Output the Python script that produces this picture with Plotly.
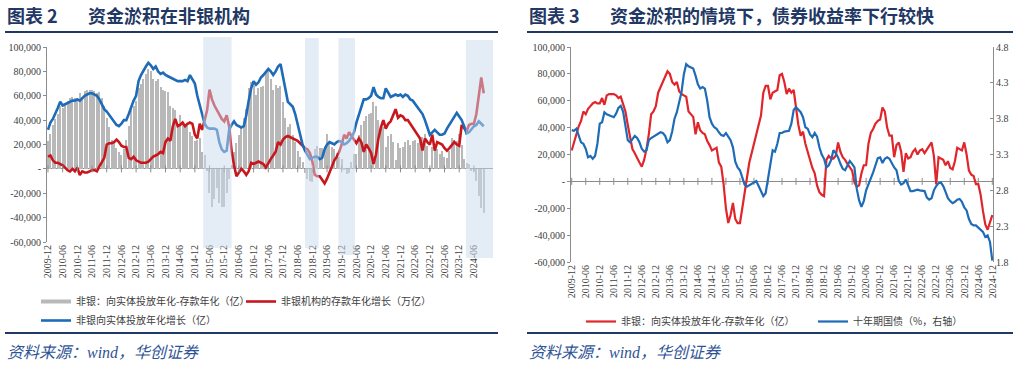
import plotly.graph_objects as go
import pandas as pd

# ---------------- data ----------------
months = [p.strftime("%Y-%m") for p in pd.period_range("2009-12", "2024-12", freq="M")]
tick_labels = months[::6]

# 非银：向实体投放年化-存款年化（亿）  (left bars, right red line)
gap = [23000,29000,36000,41000,45000,52000,50000,54000,56000,58000,
       59000,58000,58000,62000,57000,64000,65000,65000,65000,64000,
       62000,63000,58000,52000,42000,34000,24000,21000,17000,14000,
       11000,16000,24000,35000,50000,52000,56000,66000,70000,74000,
       78000,82000,80000,74000,72000,74000,67000,65000,64000,63000,
       52000,50000,48000,35000,44000,38000,36000,35000,30000,27000,
       23000,24000,25000,14000,11000,-2000,-20000,-31000,-25000,-16000,
       -28000,-31000,-31000,-20000,-8000,3000,14000,21000,28000,34000,
       42000,49000,66000,71000,71000,61000,66000,67000,68000,79000,
       80000,74000,65000,69000,66000,68000,55000,42000,34000,37000,
       28000,22000,15000,10000,6000,-3000,-8000,-10000,-11000,16000,
       19000,17000,17000,19000,29000,22000,18000,16000,13000,10000,
       8000,-1000,-4000,-3000,6000,12000,12000,28000,36000,39000,
       43000,45000,46000,55000,52000,40000,34000,34000,18000,27000,
       29000,22000,7000,21000,17000,18000,22000,24000,20000,23000,
       24000,21000,24000,26000,29000,19000,-2000,18000,17000,16000,
       12000,15000,10000,9000,15000,25000,24000,23000,29000,20000,
       8000,5000,4000,-2000,-2000,-10000,-22000,-32000,-36000,-30000,
       -25000]

# 非银向实体投放年化增长（亿）
nb_lending = [32000,38000,41000,45000,50000,55000,52000,53000,54000,55000,
              56000,56000,57000,56000,58000,60000,61000,62000,62000,61000,
              60000,57000,53000,49000,47000,44000,41000,38000,36000,35000,
              37000,40000,40000,45000,51000,56000,60000,72000,77000,81000,
              84000,87000,85000,82000,84000,80000,78000,79000,77000,76000,
              75000,74000,73000,72000,72000,72000,73000,72000,77000,74000,
              70000,60000,52000,44000,37000,34000,33000,33000,33000,32000,
              22000,16000,14000,15000,32000,36000,39000,36000,35000,34000,
              35000,44000,56000,66000,72000,69000,71000,75000,77000,80000,
              82000,80000,77000,80000,84000,86000,76000,64000,55000,53000,
              51000,45000,36000,28000,20000,15000,12000,8000,9000,10000,
              10000,8000,9000,16000,20000,22000,21000,20000,22000,23000,
              22000,20000,21000,23000,26000,30000,38000,45000,52000,57000,
              57000,58000,60000,67000,61000,59000,58000,58000,66000,62000,
              59000,60000,61000,60000,61000,59000,61000,60000,57000,56000,
              53000,50000,48000,45000,40000,34000,28000,30000,32000,30000,
              28000,28000,29000,33000,36000,39000,42000,46000,43000,40000,
              35000,29000,30000,33000,35000,36000,39000,37000,35000]

# 非银机构的存款年化增长（万亿）
nb_deposit = [10000,11000,7000,5000,5000,4000,3000,1000,-1000,-2000,
              0,-2000,1000,-5000,-2000,-3000,-3000,-2000,-1000,-1000,
              -2000,2000,6000,9000,20000,21000,21000,22000,24000,22000,
              19000,18000,18000,9000,8000,10000,7000,6000,5000,5000,
              5000,6000,8000,10000,11000,12000,14000,13000,22000,25000,
              23000,35000,41000,35000,36000,38000,35000,37000,38000,37000,
              28000,25000,37000,32000,40000,48000,65000,57000,52000,48000,
              45000,41000,39000,44000,35000,15000,3000,-6000,-3000,0,
              -2000,-5000,-2000,5000,4000,5000,6000,5000,4000,1000,
              5000,8000,11000,14000,22000,20000,24000,26000,27000,26000,
              25000,24000,23000,21000,19000,17000,16000,13000,6000,-5000,
              -6000,-6000,-9000,-12000,-8000,-3000,3000,7000,10000,14000,
              20000,28000,25000,30000,27000,24000,21000,25000,22000,14000,
              20000,17000,13000,4000,12000,25000,34000,40000,33000,37000,
              39000,44000,49000,42000,44000,43000,40000,40000,37000,33000,
              30000,28000,25000,15000,25000,22000,20000,28000,15000,22000,
              21000,20000,17000,15000,17000,20000,22000,20000,19000,36000,
              33000,31000,36000,37000,37000,45000,60000,75000,62000]

# 十年期国债（%，右轴）
bond10y = [3.64,3.63,3.66,3.56,3.47,3.45,3.38,3.26,3.28,3.24,
           3.28,3.45,3.73,3.75,3.89,3.86,3.85,3.84,3.82,3.87,
           3.95,3.98,3.90,3.70,3.50,3.47,3.52,3.56,3.53,3.47,
           3.38,3.34,3.36,3.50,3.53,3.55,3.58,3.60,3.61,3.60,
           3.56,3.47,3.50,3.62,3.80,3.89,4.03,4.17,4.42,4.56,
           4.53,4.51,4.50,4.40,4.28,4.22,4.24,4.22,4.05,3.82,
           3.73,3.68,3.66,3.61,3.57,3.56,3.60,3.55,3.50,3.40,
           3.20,3.12,3.08,2.98,2.88,2.85,2.87,2.90,2.91,2.93,
           2.86,2.78,2.72,2.76,2.96,3.19,3.36,3.34,3.45,3.60,
           3.60,3.62,3.63,3.63,3.73,3.92,3.96,3.93,3.89,3.82,
           3.68,3.66,3.58,3.54,3.60,3.55,3.40,3.30,3.24,3.12,
           3.15,3.22,3.36,3.32,3.26,3.17,3.10,3.08,3.15,3.21,
           3.17,3.12,2.82,2.66,2.57,2.65,2.80,2.88,2.96,3.05,
           3.15,3.25,3.26,3.18,3.24,3.26,3.24,3.17,3.12,3.08,
           2.93,2.88,2.90,2.95,2.87,2.79,2.79,2.80,2.81,2.80,
           2.80,2.79,2.70,2.67,2.69,2.80,2.86,2.90,2.91,2.86,
           2.78,2.69,2.65,2.62,2.64,2.67,2.68,2.64,2.56,2.52,
           2.40,2.33,2.31,2.31,2.28,2.25,2.22,2.15,2.17,2.08,
           1.82]

y_ticks = [100000, 80000, 60000, 40000, 20000, 0, -20000, -40000, -60000]
y_ticktext = ["100,000", "80,000", "60,000", "40,000", "20,000", "-", "-20,000", "-40,000", "-60,000"]
y2_ticks = [4.8, 4.3, 3.8, 3.3, 2.8, 2.3, 1.8]

# ---------------- styles ----------------
W, H = 1024, 373
RED = "#c8161d"
BLUE = "#1e6bb8"
GRAY = "#b8b8b8"
AX = "#8c8c8c"
NAVY = "#1f3864"
SERIF = "Liberation Serif, Times New Roman, serif"
CJK = "Noto Sans CJK SC, sans-serif"

def px_x(p):
    return p / W

def px_y(p):
    return 1 - p / H

n_left = len(nb_lending)
left_months = months[:n_left]
left_ticks = [m for m in tick_labels if m in left_months]

fig = go.Figure()

# ---- left panel ----
fig.add_trace(go.Bar(x=left_months, y=gap[:n_left], marker=dict(color=GRAY, line=dict(width=0)),
                     width=0.45, showlegend=False, xaxis="x", yaxis="y", hoverinfo="skip"))
fig.add_trace(go.Scatter(x=[None], y=[None], mode="lines", line=dict(color=GRAY, width=4),
                         name="非银：向实体投放年化-存款年化（亿）", legend="legend", xaxis="x", yaxis="y"))
fig.add_trace(go.Scatter(x=left_months, y=nb_deposit, mode="lines",
                         line=dict(color=RED, width=2.6), name="非银机构的存款年化增长（万亿）",
                         legend="legend", xaxis="x", yaxis="y"))
fig.add_trace(go.Scatter(x=left_months, y=nb_lending, mode="lines",
                         line=dict(color=BLUE, width=2.6), name="非银向实体投放年化增长（亿）",
                         legend="legend2", xaxis="x", yaxis="y"))
fig.add_trace(go.Scatter(x=left_ticks, y=[0] * len(left_ticks), mode="markers",
                         marker=dict(symbol="line-ns", size=5, line=dict(color=AX, width=1)),
                         showlegend=False, hoverinfo="skip", xaxis="x", yaxis="y"))

# ---- right panel ----
fig.add_trace(go.Scatter(x=tick_labels, y=[0] * len(tick_labels), mode="markers",
                         marker=dict(symbol="line-ns", size=5, line=dict(color=AX, width=1)),
                         showlegend=False, hoverinfo="skip", xaxis="x2", yaxis="y3"))
fig.add_trace(go.Scatter(x=months, y=gap, mode="lines", line=dict(color="#e0262b", width=2.2),
                         name="非银：向实体投放年化-存款年化（亿）", legend="legend3",
                         xaxis="x2", yaxis="y3"))
fig.add_trace(go.Scatter(x=months, y=bond10y, mode="lines", line=dict(color=BLUE, width=2.2),
                         name="十年期国债（%，右轴）", legend="legend3", xaxis="x2", yaxis="y4"))

axis_common = dict(showgrid=False, automargin=False,
                   tickfont=dict(family=SERIF, size=10, color="#404040"))
legend_font = dict(family=CJK, size=10, color="#404040")

fig.update_layout(
    width=W, height=H,
    margin=dict(l=0, r=0, t=0, b=0, autoexpand=False),
    paper_bgcolor="white", plot_bgcolor="white",
    bargap=0,
    xaxis=dict(domain=[px_x(47), px_x(493)], anchor="y", type="category", categoryorder="array",
               categoryarray=months, range=[-0.4, 181.8], tickmode="array", tickvals=left_ticks,
               ticktext=left_ticks, tickangle=-90, ticks="", showline=False, zeroline=False,
               **axis_common),
    yaxis=dict(domain=[px_y(242), px_y(47)], anchor="x", range=[-60000, 100000], tickmode="array",
               tickvals=y_ticks, ticktext=y_ticktext, showline=True, linecolor=AX, linewidth=1,
               ticks="outside", ticklen=3, tickcolor=AX, zeroline=True, zerolinecolor=AX,
               zerolinewidth=1, **axis_common),
    xaxis2=dict(domain=[px_x(571), px_x(993)], anchor="y3", type="category", categoryorder="array",
                categoryarray=months, range=[-0.3, 180.3], tickmode="array", tickvals=tick_labels,
                ticktext=tick_labels, tickangle=-90, ticks="", showline=False, zeroline=False,
                **axis_common),
    yaxis3=dict(domain=[px_y(262), px_y(47)], anchor="x2", range=[-60000, 100000], tickmode="array",
                tickvals=y_ticks, ticktext=y_ticktext, showline=True, linecolor=AX, linewidth=1,
                ticks="outside", ticklen=3, tickcolor=AX, zeroline=True, zerolinecolor=AX,
                zerolinewidth=1, **axis_common),
    yaxis4=dict(overlaying="y3", anchor="x2", side="right", range=[1.8, 4.8], tickmode="array",
                tickvals=y2_ticks, ticktext=[f"{v:.1f}" for v in y2_ticks], showline=True,
                linecolor=AX, linewidth=1, ticks="inside", ticklen=3, tickcolor=AX, zeroline=False,
                **axis_common),
    legend=dict(orientation="h", x=px_x(36), y=px_y(287), xanchor="left", yanchor="top",
                entrywidth=160, entrywidthmode="pixels", itemwidth=30, bgcolor="rgba(0,0,0,0)",
                font=legend_font, traceorder="normal"),
    legend2=dict(orientation="h", x=px_x(36), y=px_y(306), xanchor="left", yanchor="top",
                 itemwidth=30, bgcolor="rgba(0,0,0,0)", font=legend_font),
    legend3=dict(orientation="h", x=px_x(581), y=px_y(307), xanchor="left", yanchor="top",
                 entrywidth=187, entrywidthmode="pixels", itemwidth=30, bgcolor="rgba(0,0,0,0)",
                 font=legend_font, traceorder="normal"),
    showlegend=True,
)

# shaded windows on the left panel (drawn above, semi-transparent)
shapes = []
for x0, x1, top, bottom in [(63.4, 75.0, 37, 248), (105.0, 110.6, 38, 248),
                            (118.7, 125.4, 38, 255), (170.7, 182.3, 40, 258)]:
    shapes.append(dict(type="rect", xref="x", yref="paper", x0=x0, x1=x1, y0=px_y(bottom), y1=px_y(top),
                       fillcolor="#c9d9ee", opacity=0.5, line=dict(width=0), layer="above"))
# horizontal rules
for (xa, xb) in [(5, 498), (527, 1013)]:
    for yy in (32, 333):
        shapes.append(dict(type="line", xref="paper", yref="paper", x0=px_x(xa), x1=px_x(xb),
                           y0=px_y(yy), y1=px_y(yy), line=dict(color=NAVY, width=2)))
fig.update_layout(shapes=shapes)

annotations = []
for x_lab, x_txt, lab, txt in [(5, 86, "图表 2", "资金淤积在非银机构"),
                               (527, 608, "图表 3", "资金淤积的情境下，债券收益率下行较快")]:
    annotations.append(dict(text=f"<b>{lab}</b>", x=px_x(x_lab), y=px_y(15), xref="paper", yref="paper",
                            xanchor="left", yanchor="middle", showarrow=False,
                            font=dict(family=CJK, size=18, color=NAVY)))
    annotations.append(dict(text=f"<b>{txt}</b>", x=px_x(x_txt), y=px_y(15), xref="paper", yref="paper",
                            xanchor="left", yanchor="middle", showarrow=False,
                            font=dict(family=CJK, size=18, color=NAVY)))
for xs in (5, 527):
    annotations.append(dict(text="<i>资料来源：wind，华创证券</i>", x=px_x(xs), y=px_y(352), xref="paper",
                            yref="paper", xanchor="left", yanchor="middle", showarrow=False,
                            font=dict(family="Liberation Serif, Noto Sans CJK SC", size=16, color="#2f5496")))
fig.update_layout(annotations=annotations)

fig.write_html("out.html", config={"displayModeBar": False},
               post_script="document.body.style.margin='0';")
